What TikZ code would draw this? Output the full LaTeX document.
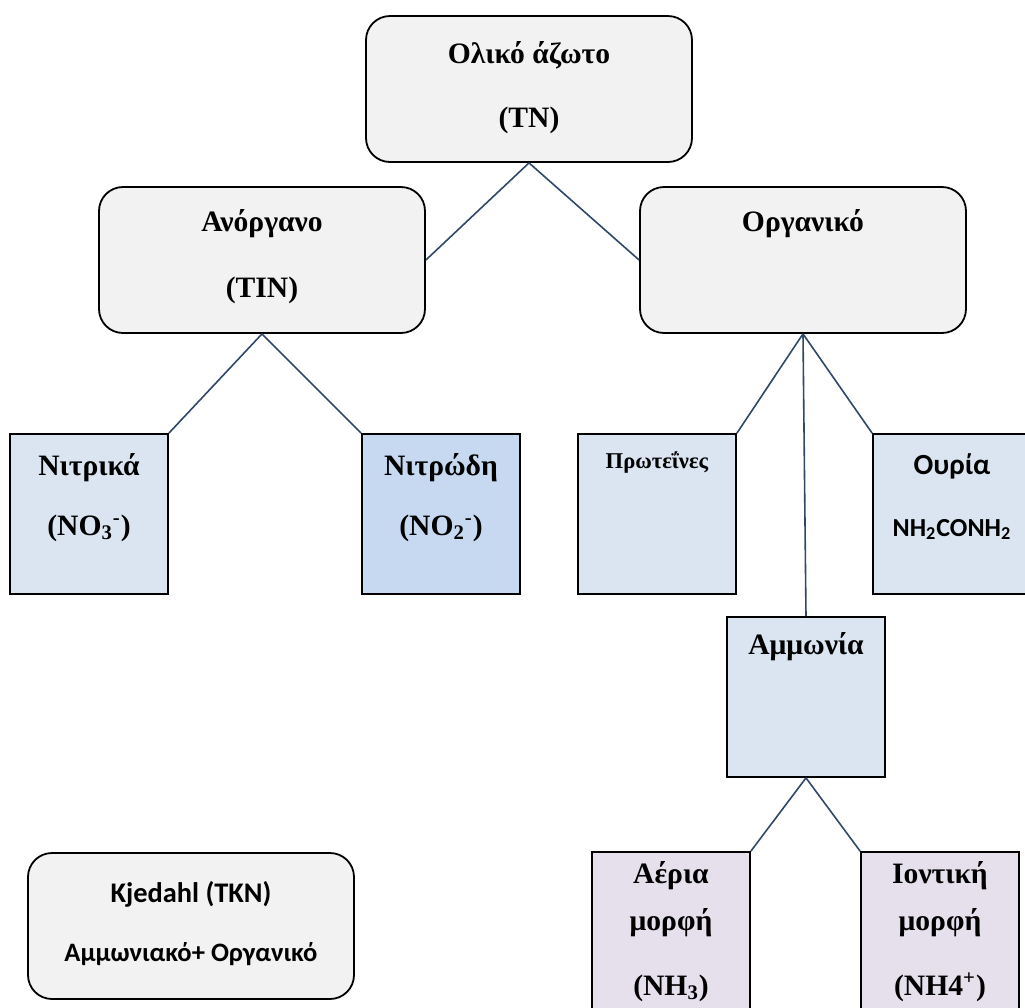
\documentclass[tikz,border=0pt]{standalone}
\usepackage{fontspec}
\setmainfont{Liberation Serif}
\newfontfamily\calfont{Carlito}
\usetikzlibrary{calc}
\definecolor{navyline}{RGB}{47,72,105}
\definecolor{greybox}{RGB}{242,242,242}
\definecolor{paleblue}{RGB}{219,229,241}
\definecolor{midblue}{RGB}{198,217,241}
\definecolor{lilac}{RGB}{229,224,236}

\begin{document}
\begin{tikzpicture}[x=0.5pt, y=-0.5pt,
  rb/.style={draw, line width=0.9pt, rounded corners=12pt, fill=greybox, minimum width=163pt, minimum height=73pt, inner sep=0pt},
  sq/.style={draw, line width=0.9pt, minimum width=79pt, minimum height=80pt, inner sep=0pt},
  t/.style={anchor=base, inner sep=0pt, font=\fontsize{14.8}{17}\selectfont\bfseries},
  ts/.style={anchor=base, inner sep=0pt, font=\fontsize{13.8}{16}\selectfont\calfont\bfseries},
  l/.style={draw=navyline, line width=0.8pt}]
  \useasboundingbox (0,0) rectangle (1025,1008);
  % boxes
  \node[rb] (tn)  at (529,89)  {};
  \node[rb] (tin) at (262,260) {};
  \node[rb] (org) at (803,260) {};
  \node[sq, fill=paleblue] (no3)  at (89,514)  {};
  \node[sq, fill=midblue]  (no2)  at (441,514) {};
  \node[sq, fill=paleblue] (prot) at (657,514) {};
  \node[sq, fill=paleblue] (urea) at (952,514) {};
  \node[sq, fill=paleblue] (amm)  at (806,697) {};
  \node[sq, fill=lilac]    (nh3)  at (671,932) {};
  \node[sq, fill=lilac]    (nh4)  at (940,932) {};
  \node[rb] (tkn) at (191,926) {};
  % connectors
  \draw[l] (tn.south) -- (tin.east);
  \draw[l] (tn.south) -- (org.west);
  \draw[l] (tin.south) -- (no3.north east);
  \draw[l] (tin.south) -- (no2.north west);
  \draw[l] (org.south) -- (prot.north east);
  \draw[l] (org.south) -- (amm.north);
  \draw[l] (org.south) -- (urea.north west);
  \draw[l] (amm.south) -- (nh3.north east);
  \draw[l] (amm.south) -- (nh4.north west);
  % texts
  \node[t] (tn1)  at ($(tn.north)+(0,48)$)  {Ολικό άζωτο};
  \node[t] (tn2)  at ($(tn.north)+(0,112)$) {(TN)};
  \node[t] (tin1) at ($(tin.north)+(0,45)$)  {Ανόργανο};
  \node[t] (tin2) at ($(tin.north)+(0,111)$) {(TIN)};
  \node[t] (org1) at ($(org.north)+(0,45)$)  {Οργανικό};
  \node[t] (no31) at ($(no3.north)+(0,42)$)  {Νιτρικά};
  \node[t] (no32) at ($(no3.north)+(0,102)$) {(NO\textsubscript{3}\textsuperscript{-})};
  \node[t] (no21) at ($(no2.north)+(0,42)$)  {Νιτρώδη};
  \node[t] (no22) at ($(no2.north)+(0,102)$) {(NO\textsubscript{2}\textsuperscript{-})};
  \node[t, font=\fontsize{11.3}{13}\selectfont\bfseries] (prot1) at ($(prot.north)+(0,35)$) {Πρωτεΐνες};
  \node[ts, font=\fontsize{14.6}{17}\selectfont\calfont\bfseries] (urea1) at ($(urea.north)+(0,41)$) {Ουρία};
  \node[ts, font=\fontsize{13}{15}\selectfont\calfont\bfseries] (urea2) at ($(urea.north)+(0,103)$) {NH\textsubscript{2}CONH\textsubscript{2}};
  \node[t] (amm1) at ($(amm.north)+(0,38)$)  {Αμμωνία};
  \node[t] (nh31) at ($(nh3.north)+(0,32)$)  {Αέρια};
  \node[t] (nh32) at ($(nh3.north)+(0,79)$)  {μορφή};
  \node[t] (nh33) at ($(nh3.north)+(0,144)$) {(NH\textsubscript{3})};
  \node[t] (nh41) at ($(nh4.north)+(0,32)$)  {Ιοντική};
  \node[t] (nh42) at ($(nh4.north)+(0,79)$)  {μορφή};
  \node[t] (nh43) at ($(nh4.north)+(0,144)$) {(NH4\textsuperscript{+})};
  \node[ts, font=\fontsize{14.2}{16}\selectfont\calfont\bfseries] (tkn1) at ($(tkn.north)+(0,50)$) {Kjedahl (TKN)};
  \node[ts, font=\fontsize{13.3}{16}\selectfont\calfont\bfseries] (tkn2) at ($(tkn.north)+(0,109)$) {Αμμωνιακό+ Οργανικό};
\end{tikzpicture}
\end{document}
